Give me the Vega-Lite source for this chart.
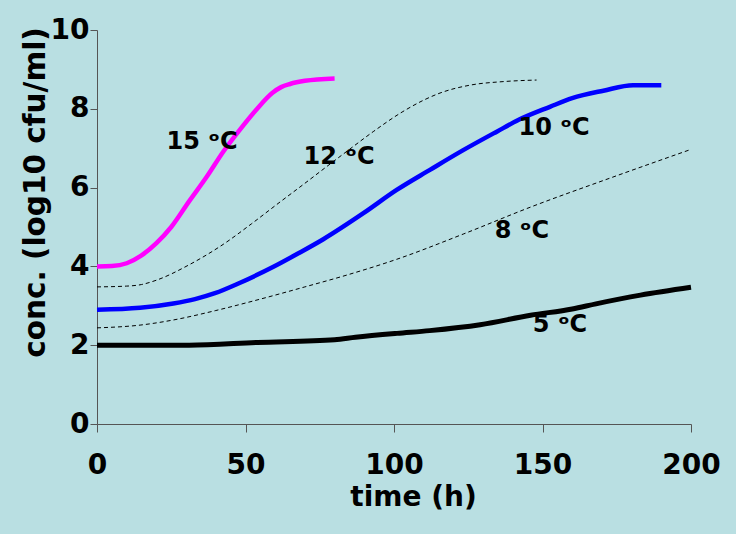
{
  "$schema": "https://vega.github.io/schema/vega-lite/v6.json",
  "width": 594,
  "height": 394,
  "autosize": "none",
  "padding": {"left": 97, "top": 30, "right": 45, "bottom": 110},
  "background": "#b9dfe2",
  "config": {
    "view": {"stroke": null},
    "font": "DejaVu Sans"
  },
  "datasets": {
    "curves": [
      {"series": "15", "time": 0, "conc": 4.0},
      {"series": "15", "time": 5, "conc": 4.01},
      {"series": "15", "time": 10, "conc": 4.08},
      {"series": "15", "time": 15, "conc": 4.28},
      {"series": "15", "time": 20, "conc": 4.59},
      {"series": "15", "time": 25, "conc": 5.0},
      {"series": "15", "time": 31, "conc": 5.65},
      {"series": "15", "time": 37, "conc": 6.28},
      {"series": "15", "time": 42.5, "conc": 6.91},
      {"series": "15", "time": 48, "conc": 7.46},
      {"series": "15", "time": 54, "conc": 8.01},
      {"series": "15", "time": 59, "conc": 8.4},
      {"series": "15", "time": 62, "conc": 8.55},
      {"series": "15", "time": 65, "conc": 8.63},
      {"series": "15", "time": 70, "conc": 8.71},
      {"series": "15", "time": 80, "conc": 8.77},

      {"series": "12", "time": 0, "conc": 3.48},
      {"series": "12", "time": 10, "conc": 3.5},
      {"series": "12", "time": 15, "conc": 3.54},
      {"series": "12", "time": 20, "conc": 3.65},
      {"series": "12", "time": 31, "conc": 4.04},
      {"series": "12", "time": 42.5, "conc": 4.56},
      {"series": "12", "time": 52, "conc": 5.08},
      {"series": "12", "time": 60.5, "conc": 5.57},
      {"series": "12", "time": 70, "conc": 6.11},
      {"series": "12", "time": 78.5, "conc": 6.6},
      {"series": "12", "time": 85, "conc": 6.97},
      {"series": "12", "time": 93, "conc": 7.42},
      {"series": "12", "time": 103, "conc": 7.93},
      {"series": "12", "time": 110, "conc": 8.22},
      {"series": "12", "time": 115.5, "conc": 8.4},
      {"series": "12", "time": 125.6, "conc": 8.6},
      {"series": "12", "time": 136.7, "conc": 8.69},
      {"series": "12", "time": 148, "conc": 8.73},

      {"series": "10", "time": 0, "conc": 2.9},
      {"series": "10", "time": 14.5, "conc": 2.95},
      {"series": "10", "time": 25.7, "conc": 3.06},
      {"series": "10", "time": 33, "conc": 3.17},
      {"series": "10", "time": 39.7, "conc": 3.32},
      {"series": "10", "time": 48, "conc": 3.58},
      {"series": "10", "time": 59.4, "conc": 3.99},
      {"series": "10", "time": 68, "conc": 4.34},
      {"series": "10", "time": 76.2, "conc": 4.69},
      {"series": "10", "time": 89.7, "conc": 5.35},
      {"series": "10", "time": 100.9, "conc": 5.94},
      {"series": "10", "time": 112.1, "conc": 6.45},
      {"series": "10", "time": 123.3, "conc": 6.95},
      {"series": "10", "time": 134.6, "conc": 7.42},
      {"series": "10", "time": 142, "conc": 7.72},
      {"series": "10", "time": 152.5, "conc": 8.05},
      {"series": "10", "time": 160, "conc": 8.27},
      {"series": "10", "time": 170.5, "conc": 8.46},
      {"series": "10", "time": 180.5, "conc": 8.6},
      {"series": "10", "time": 190, "conc": 8.6},

      {"series": "8", "time": 0, "conc": 2.44},
      {"series": "8", "time": 14.5, "conc": 2.51},
      {"series": "8", "time": 25.7, "conc": 2.64},
      {"series": "8", "time": 40, "conc": 2.88},
      {"series": "8", "time": 55, "conc": 3.17},
      {"series": "8", "time": 70, "conc": 3.48},
      {"series": "8", "time": 85, "conc": 3.8},
      {"series": "8", "time": 100.9, "conc": 4.18},
      {"series": "8", "time": 123.3, "conc": 4.82},
      {"series": "8", "time": 145.8, "conc": 5.5},
      {"series": "8", "time": 172.7, "conc": 6.24},
      {"series": "8", "time": 200, "conc": 6.97},

      {"series": "5", "time": 0, "conc": 2.0},
      {"series": "5", "time": 31, "conc": 2.0},
      {"series": "5", "time": 54, "conc": 2.07},
      {"series": "5", "time": 80, "conc": 2.14},
      {"series": "5", "time": 87, "conc": 2.2},
      {"series": "5", "time": 101, "conc": 2.3},
      {"series": "5", "time": 112, "conc": 2.37},
      {"series": "5", "time": 129, "conc": 2.52},
      {"series": "5", "time": 146, "conc": 2.76},
      {"series": "5", "time": 160, "conc": 2.92},
      {"series": "5", "time": 168, "conc": 3.05},
      {"series": "5", "time": 183, "conc": 3.27},
      {"series": "5", "time": 200, "conc": 3.47}
    ],
    "labels": [
      {"label": "15 ᵒC", "time": 35.4, "conc": 7.16},
      {"label": "12 ᵒC", "time": 81.5, "conc": 6.78},
      {"label": "10 ᵒC", "time": 153.9, "conc": 7.51},
      {"label": "8 ᵒC", "time": 143.1, "conc": 4.9},
      {"label": "5 ᵒC", "time": 155.9, "conc": 2.51}
    ]
  },
  "encoding": {
    "x": {
      "field": "time",
      "type": "quantitative",
      "scale": {"domain": [0, 200], "nice": false, "zero": false},
      "axis": {
        "title": "time (h)",
        "values": [0, 50, 100, 150, 200],
        "grid": false,
        "domainColor": "#555555",
        "tickColor": "#555555",
        "tickSize": 8,
        "labelFont": "DejaVu Sans",
        "labelFontWeight": "bold",
        "labelFontSize": 28,
        "labelColor": "#000000",
        "labelPadding": 19,
        "labelFlush": false,
        "labelOverlap": false,
        "titleFont": "DejaVu Sans",
        "titleFontWeight": "bold",
        "titleFontSize": 28,
        "titleColor": "#000000",
        "titleX": 316,
        "titleY": 73,
        "titleAlign": "center",
        "titleBaseline": "middle"
      }
    },
    "y": {
      "field": "conc",
      "type": "quantitative",
      "scale": {"domain": [0, 10], "nice": false},
      "axis": {
        "title": "conc. (log10 cfu/ml)",
        "values": [0, 2, 4, 6, 8, 10],
        "grid": false,
        "domainColor": "#555555",
        "tickColor": "#555555",
        "tickSize": 7,
        "labelFont": "DejaVu Sans",
        "labelFontWeight": "bold",
        "labelFontSize": 28,
        "labelColor": "#000000",
        "labelPadding": 1,
        "labelFlush": false,
        "labelOverlap": false,
        "titleFont": "DejaVu Sans",
        "titleFontWeight": "bold",
        "titleFontSize": 29.5,
        "titleColor": "#000000",
        "titleAngle": -90,
        "titleX": -62,
        "titleY": 162,
        "titleAlign": "center",
        "titleBaseline": "middle"
      }
    }
  },
  "layer": [
    {
      "data": {"name": "curves"},
      "transform": [{"filter": "datum.series === '12' || datum.series === '8'"}],
      "mark": {"type": "line", "color": "#000000", "strokeWidth": 1, "strokeDash": [4, 3], "interpolate": "monotone"},
      "encoding": {"detail": {"field": "series", "type": "nominal"}}
    },
    {
      "data": {"name": "curves"},
      "transform": [{"filter": "datum.series === '5'"}],
      "mark": {"type": "line", "color": "#000000", "strokeWidth": 5, "interpolate": "monotone"},
      "encoding": {}
    },
    {
      "data": {"name": "curves"},
      "transform": [{"filter": "datum.series === '15' || datum.series === '10'"}],
      "mark": {"type": "line", "strokeWidth": 4.5, "interpolate": "monotone"},
      "encoding": {
        "color": {
          "field": "series",
          "type": "nominal",
          "scale": {"domain": ["15", "10"], "range": ["#ff00ff", "#0000ff"]},
          "legend": null
        }
      }
    },
    {
      "data": {"name": "labels"},
      "mark": {"type": "text", "font": "DejaVu Sans", "fontWeight": "bold", "fontSize": 24, "color": "#000000", "align": "center", "baseline": "middle"},
      "encoding": {"text": {"field": "label", "type": "nominal"}}
    }
  ]
}
